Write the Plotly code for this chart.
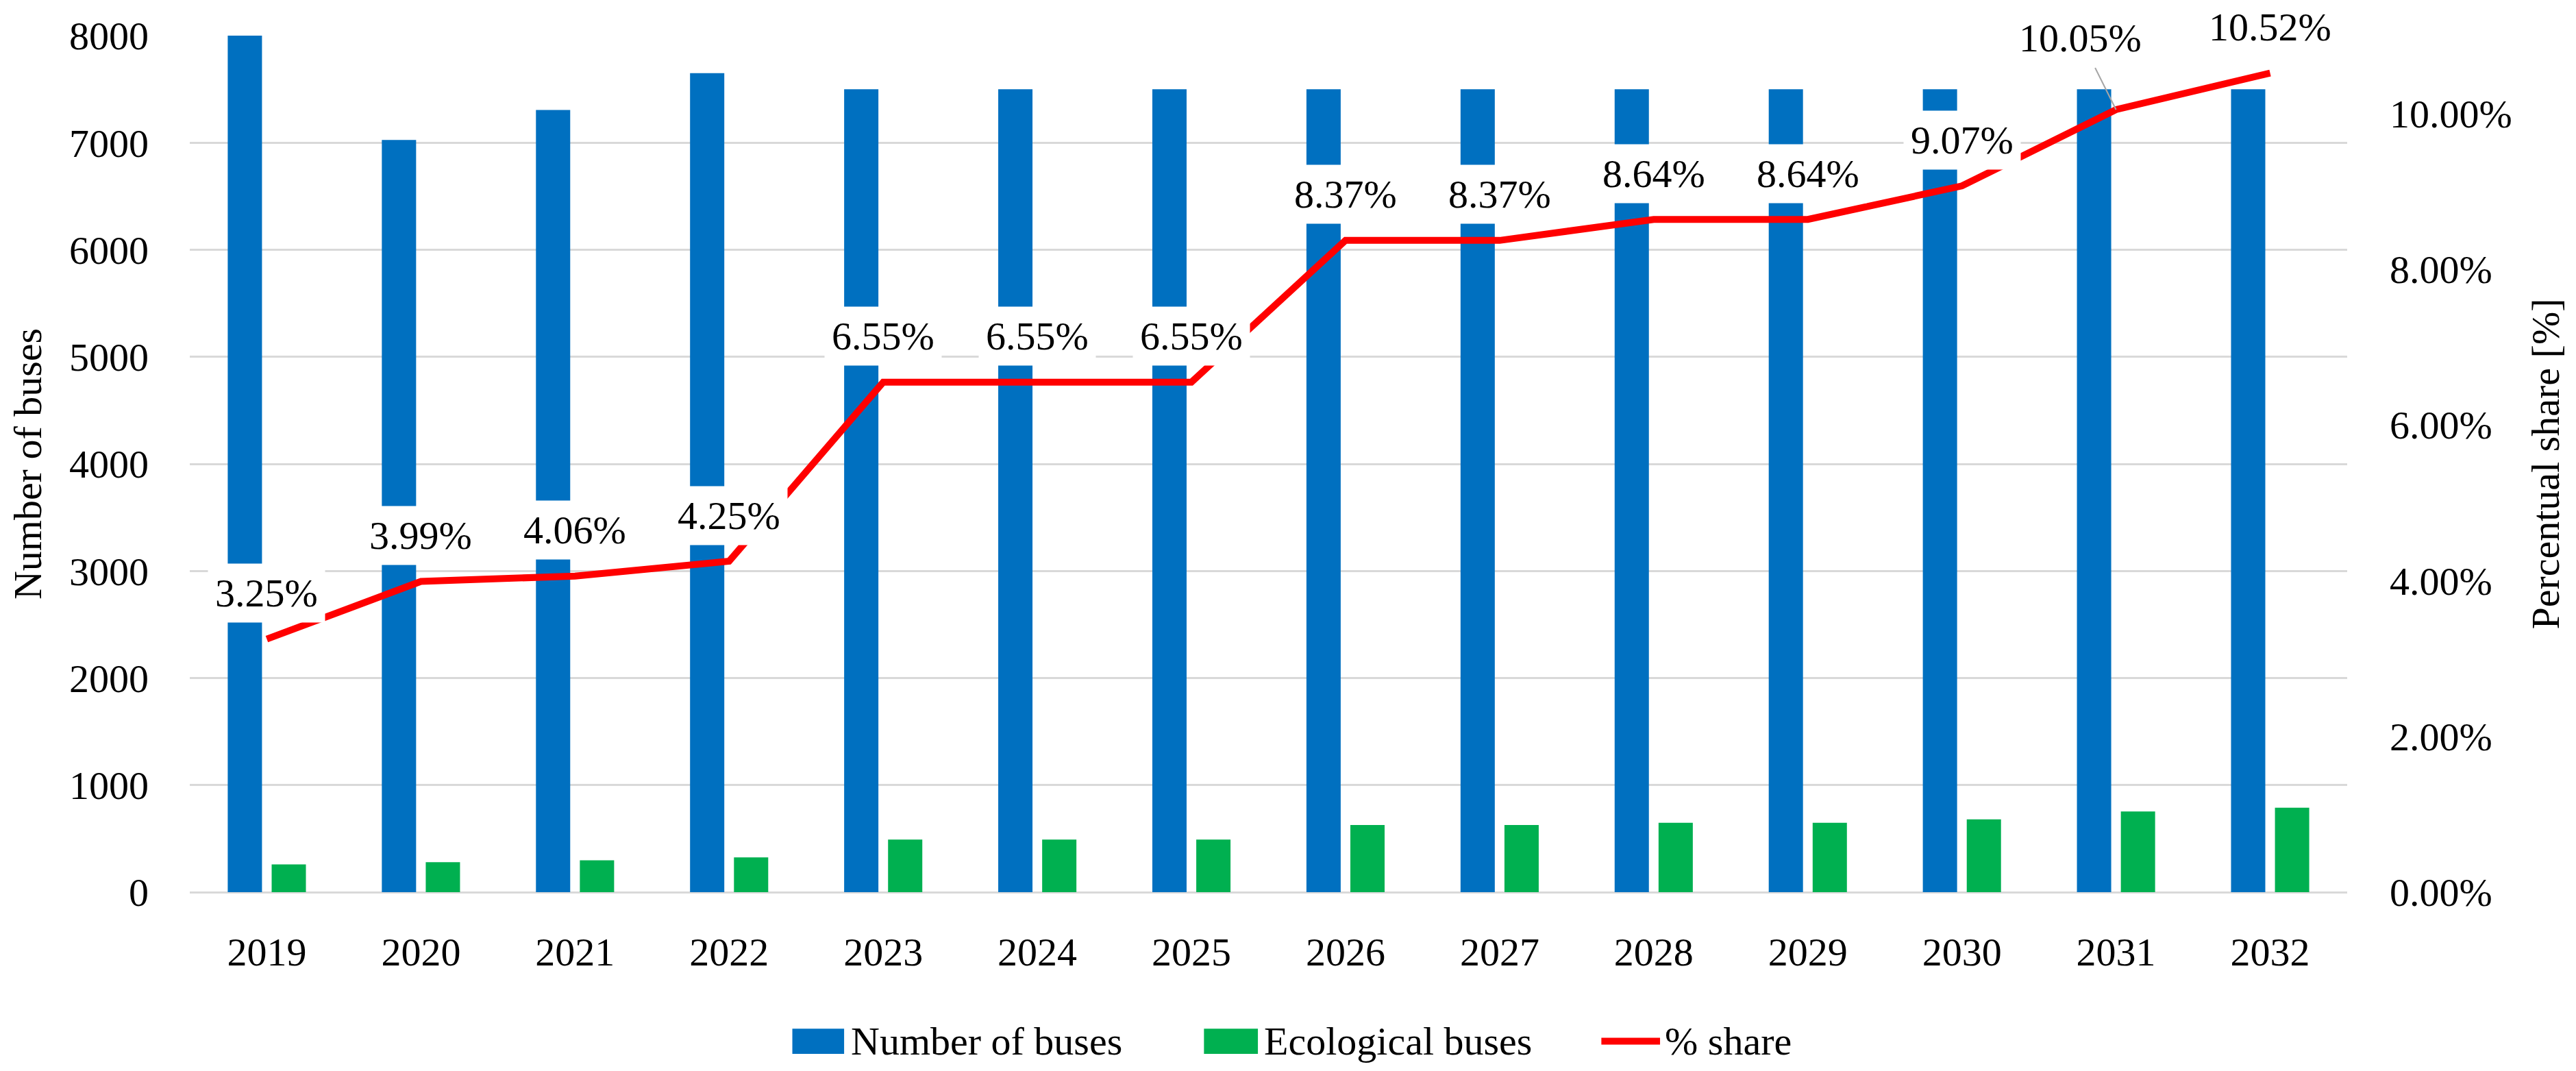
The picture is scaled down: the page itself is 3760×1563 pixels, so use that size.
import plotly.graph_objects as go

years = ["2019", "2020", "2021", "2022", "2023", "2024", "2025",
         "2026", "2027", "2028", "2029", "2030", "2031", "2032"]
number_of_buses = [8000, 7025, 7306, 7650, 7500, 7500, 7500,
                   7500, 7500, 7500, 7500, 7500, 7500, 7500]
ecological_buses = [260, 280, 297, 325, 491, 491, 491,
                    628, 628, 648, 648, 680, 754, 789]
share = [0.0325, 0.0399, 0.0406, 0.0425, 0.0655, 0.0655, 0.0655,
         0.0837, 0.0837, 0.0864, 0.0864, 0.0907, 0.1005, 0.1052]
series_names = ["Number of buses", "Ecological buses", "% share"]

FONT = "Liberation Serif, Times New Roman, serif"
FS = 58
BLUE = "#0070C0"
GREEN = "#00B050"
RED = "#FF0000"
GRID = "#D9D9D9"

fig = go.Figure()
fig.add_trace(go.Bar(x=years, y=number_of_buses, name=series_names[0],
                     marker=dict(color=BLUE, line=dict(width=0))))
fig.add_trace(go.Bar(x=years, y=ecological_buses, name=series_names[1],
                     marker=dict(color=GREEN, line=dict(width=0))))
fig.add_trace(go.Scatter(x=years, y=share, name=series_names[2], yaxis="y2",
                         mode="lines", line=dict(color=RED, width=10)))

annotations = []
for i, s in enumerate(share):
    # category axis: annotation x given as category index
    a = dict(x=i, y=s, xref="x", yref="y2", text=f"{s*100:.2f}%",
             font=dict(family=FONT, size=FS, color="black"),
             bgcolor="white", borderpad=10)
    if i == len(share) - 2:
        a.update(showarrow=True, ax=-52, ay=-104, arrowcolor="#A6A6A6",
                 arrowwidth=2, arrowhead=0, standoff=0)
    else:
        a.update(showarrow=False, yshift=67)
    annotations.append(a)

# legend drawn below the plot (larger swatches, like the original)
LEG_Y = -0.174
shapes = [
    dict(type="rect", xref="paper", yref="paper", x0=0.2793, x1=0.3033,
         y0=LEG_Y - 0.0147, y1=LEG_Y + 0.0147, fillcolor=BLUE, line=dict(width=0)),
    dict(type="rect", xref="paper", yref="paper", x0=0.4701, x1=0.4951,
         y0=LEG_Y - 0.0147, y1=LEG_Y + 0.0147, fillcolor=GREEN, line=dict(width=0)),
    dict(type="line", xref="paper", yref="paper", x0=0.6543, x1=0.6815,
         y0=LEG_Y, y1=LEG_Y, line=dict(color=RED, width=10)),
]
for xt, name in zip([0.3058, 0.4973, 0.6831], series_names):
    annotations.append(dict(x=xt, y=LEG_Y, xref="paper", yref="paper", text=name,
                            showarrow=False, xanchor="left", yanchor="middle",
                            font=dict(family=FONT, size=FS, color="black")))

fig.update_layout(
    width=3760, height=1563,
    margin=dict(l=253, r=342, t=35, b=269),
    paper_bgcolor="white", plot_bgcolor="white",
    font=dict(family=FONT, size=FS, color="black"),
    barmode="group", bargap=0.43, bargroupgap=0.22,
    showlegend=False,
    xaxis=dict(type="category", range=[-0.5, len(years) - 0.5], autorange=False,
               showgrid=False, showline=False, ticks="",
               tickfont=dict(family=FONT, size=FS), ticklabelstandoff=48),
    yaxis=dict(range=[0, 8000], dtick=1000, showgrid=True, gridcolor=GRID,
               gridwidth=3, zeroline=True, zerolinecolor=GRID, zerolinewidth=3,
               showline=False, ticks="", tickfont=dict(family=FONT, size=FS),
               ticklabelstandoff=59,
               title=dict(text="Number of buses", font=dict(family=FONT, size=FS),
                          standoff=40)),
    yaxis2=dict(overlaying="y", side="right", range=[0, 0.11],
                tickvals=[0, 0.02, 0.04, 0.06, 0.08, 0.10], tickformat=".2%",
                showgrid=False, zeroline=False, showline=False, ticks="",
                tickfont=dict(family=FONT, size=FS), ticklabelstandoff=61,
                title=dict(text="Percentual share [%]", font=dict(family=FONT, size=FS),
                           standoff=28)),
    annotations=annotations,
    shapes=shapes,
)

fig.write_html("out.html")
